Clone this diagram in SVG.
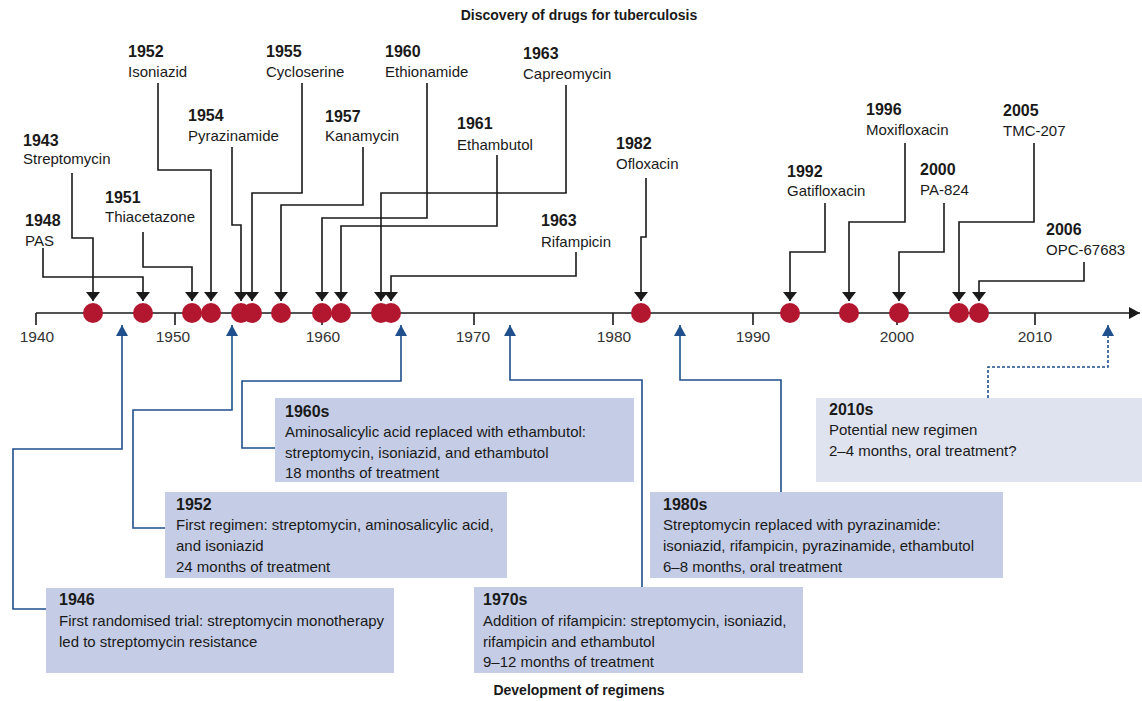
<svg xmlns="http://www.w3.org/2000/svg" width="1142" height="701" viewBox="0 0 1142 701">
<style>
text{font-family:"Liberation Sans",Arial,sans-serif;fill:#1a1a1a}
.t{font-size:14px;font-weight:bold;text-anchor:middle}
.yr{font-size:16px;font-weight:bold}
.nm{font-size:15px}
.tk{font-size:15.5px;text-anchor:middle;fill:#333}
.bl{fill:none;stroke:#1a1a1a;stroke-width:1.6}
.bu{fill:none;stroke:#1f4f8c;stroke-width:1.6}
.dot{fill:#b3162f}
.box{fill:#c5cde6}
.box2{fill:#dfe3f0}
</style>
<defs>
<marker id="ak" viewBox="0 0 9 14" refX="9" refY="7" markerWidth="9" markerHeight="14" markerUnits="userSpaceOnUse" orient="auto"><path d="M0,0 L9,7 L0,14 z" fill="#1a1a1a"/></marker>
<marker id="ab" viewBox="0 0 11 12" refX="11" refY="6" markerWidth="11" markerHeight="12" markerUnits="userSpaceOnUse" orient="auto"><path d="M0,0 L11,6 L0,12 z" fill="#1f4f8c"/></marker>
<marker id="ax" viewBox="0 0 11 12" refX="11" refY="6" markerWidth="11" markerHeight="12" markerUnits="userSpaceOnUse" orient="auto"><path d="M0,0 L11,6 L0,12 z" fill="#1a1a1a"/></marker>
</defs>
<text class="t" x="579" y="20">Discovery of drugs for tuberculosis</text>
<text class="t" x="579" y="695">Development of regimens</text>
<g id="axis">
<path class="bl" d="M36,313 H1140" marker-end="url(#ax)"/>
<path class="bl" d="M36,313 V325 M175,313 V325 M322,313 V325 M474,313 V325 M613,313 V325 M753,313 V325 M897,313 V325 M1035,313 V325"/>
<text class="tk" x="37" y="342">1940</text>
<text class="tk" x="173" y="342">1950</text>
<text class="tk" x="323" y="342">1960</text>
<text class="tk" x="473" y="342">1970</text>
<text class="tk" x="614" y="342">1980</text>
<text class="tk" x="753" y="342">1990</text>
<text class="tk" x="897" y="342">2000</text>
<text class="tk" x="1035" y="342">2010</text>
</g>
<g id="connectors">
<path class="bl" d="M72,173 V238 H93 V301" marker-end="url(#ak)"/>
<path class="bl" d="M43,248 V277 H143 V301" marker-end="url(#ak)"/>
<path class="bl" d="M143,232 V267 H192 V301" marker-end="url(#ak)"/>
<path class="bl" d="M158,83 V170 H211 V301" marker-end="url(#ak)"/>
<path class="bl" d="M232,147 V225 H241 V301" marker-end="url(#ak)"/>
<path class="bl" d="M302,83 V193 H252 V301" marker-end="url(#ak)"/>
<path class="bl" d="M363,147 V205 H281 V301" marker-end="url(#ak)"/>
<path class="bl" d="M427,83 V218 H322 V301" marker-end="url(#ak)"/>
<path class="bl" d="M497,155 V226 H341 V301" marker-end="url(#ak)"/>
<path class="bl" d="M566,85 V193 H381 V301" marker-end="url(#ak)"/>
<path class="bl" d="M576,252 V276 H391 V301" marker-end="url(#ak)"/>
<path class="bl" d="M646,178 V237 H641 V301" marker-end="url(#ak)"/>
<path class="bl" d="M825,203 V252 H790 V301" marker-end="url(#ak)"/>
<path class="bl" d="M905,143 V222 H849 V301" marker-end="url(#ak)"/>
<path class="bl" d="M944,203 V252 H899 V301" marker-end="url(#ak)"/>
<path class="bl" d="M1034,143 V222 H959 V301" marker-end="url(#ak)"/>
<path class="bl" d="M1084,262 V281 H979 V301" marker-end="url(#ak)"/>
<path class="bu" d="M46,609 H13 V449 H122 V325" marker-end="url(#ab)"/>
<path class="bu" d="M165,528 H133 V410 H232 V325" marker-end="url(#ab)"/>
<path class="bu" d="M275,448 H242 V381 H401 V325" marker-end="url(#ab)"/>
<path class="bu" d="M642,587 V380 H510 V325" marker-end="url(#ab)"/>
<path class="bu" d="M781,492 V380 H680 V325" marker-end="url(#ab)"/>
<path class="bu" d="M988,398 V367 H1108 V325" stroke-dasharray="3,2" marker-end="url(#ab)"/>
</g>
<g id="dots">
<circle class="dot" cx="93" cy="313" r="10"/>
<circle class="dot" cx="143" cy="313" r="10"/>
<circle class="dot" cx="192" cy="313" r="10"/>
<circle class="dot" cx="211" cy="313" r="10"/>
<circle class="dot" cx="241" cy="313" r="10"/>
<circle class="dot" cx="252" cy="313" r="10"/>
<circle class="dot" cx="281" cy="313" r="10"/>
<circle class="dot" cx="322" cy="313" r="10"/>
<circle class="dot" cx="341" cy="313" r="10"/>
<circle class="dot" cx="381" cy="313" r="10"/>
<circle class="dot" cx="391" cy="313" r="10"/>
<circle class="dot" cx="641" cy="313" r="10"/>
<circle class="dot" cx="790" cy="313" r="10"/>
<circle class="dot" cx="849" cy="313" r="10"/>
<circle class="dot" cx="899" cy="313" r="10"/>
<circle class="dot" cx="959" cy="313" r="10"/>
<circle class="dot" cx="979" cy="313" r="10"/>
</g>
<g id="d1943"><text class="yr" x="23" y="146">1943</text><text class="nm" x="23" y="164">Streptomycin</text></g>
<g id="d1948"><text class="yr" x="25" y="226">1948</text><text class="nm" x="25" y="246">PAS</text></g>
<g id="d1951"><text class="yr" x="105" y="203">1951</text><text class="nm" x="105" y="222">Thiacetazone</text></g>
<g id="d1952"><text class="yr" x="128" y="57">1952</text><text class="nm" x="128" y="77">Isoniazid</text></g>
<g id="d1954"><text class="yr" x="188" y="121">1954</text><text class="nm" x="188" y="141">Pyrazinamide</text></g>
<g id="d1955"><text class="yr" x="266" y="57">1955</text><text class="nm" x="266" y="77">Cycloserine</text></g>
<g id="d1957"><text class="yr" x="325" y="122">1957</text><text class="nm" x="325" y="141">Kanamycin</text></g>
<g id="d1960"><text class="yr" x="385" y="57">1960</text><text class="nm" x="385" y="77">Ethionamide</text></g>
<g id="d1961"><text class="yr" x="457" y="129">1961</text><text class="nm" x="457" y="150">Ethambutol</text></g>
<g id="d1963a"><text class="yr" x="523" y="59">1963</text><text class="nm" x="523" y="79">Capreomycin</text></g>
<g id="d1963b"><text class="yr" x="541" y="226">1963</text><text class="nm" x="541" y="247">Rifampicin</text></g>
<g id="d1982"><text class="yr" x="616" y="149">1982</text><text class="nm" x="616" y="169">Ofloxacin</text></g>
<g id="d1992"><text class="yr" x="787" y="177">1992</text><text class="nm" x="787" y="196">Gatifloxacin</text></g>
<g id="d1996"><text class="yr" x="866" y="115">1996</text><text class="nm" x="866" y="135">Moxifloxacin</text></g>
<g id="d2000"><text class="yr" x="920" y="175">2000</text><text class="nm" x="920" y="195">PA-824</text></g>
<g id="d2005"><text class="yr" x="1003" y="116">2005</text><text class="nm" x="1003" y="136">TMC-207</text></g>
<g id="d2006"><text class="yr" x="1046" y="235">2006</text><text class="nm" x="1046" y="255">OPC-67683</text></g>
<g id="r1946"><rect class="box" x="46" y="588" width="348" height="85"/>
<text class="yr" x="59" y="605">1946</text>
<text class="nm" x="59" y="626">First randomised trial: streptomycin monotherapy</text>
<text class="nm" x="59" y="647">led to streptomycin resistance</text></g>
<g id="r1952"><rect class="box" x="165" y="492" width="342" height="86"/>
<text class="yr" x="176" y="510">1952</text>
<text class="nm" x="176" y="530">First regimen: streptomycin, aminosalicylic acid,</text>
<text class="nm" x="176" y="551">and isoniazid</text>
<text class="nm" x="176" y="572">24 months of treatment</text></g>
<g id="r1960s"><rect class="box" x="275" y="398" width="359" height="84"/>
<text class="yr" x="285" y="417">1960s</text>
<text class="nm" x="285" y="437">Aminosalicylic acid replaced with ethambutol:</text>
<text class="nm" x="285" y="458">streptomycin, isoniazid, and ethambutol</text>
<text class="nm" x="285" y="478">18 months of treatment</text></g>
<g id="r1970s"><rect class="box" x="474" y="587" width="329" height="86"/>
<text class="yr" x="483" y="605">1970s</text>
<text class="nm" x="483" y="626">Addition of rifampicin: streptomycin, isoniazid,</text>
<text class="nm" x="483" y="647">rifampicin and ethambutol</text>
<text class="nm" x="483" y="667">9–12 months of treatment</text></g>
<g id="r1980s"><rect class="box" x="650" y="492" width="353" height="86"/>
<text class="yr" x="663" y="510">1980s</text>
<text class="nm" x="663" y="530">Streptomycin replaced with pyrazinamide:</text>
<text class="nm" x="663" y="551">isoniazid, rifampicin, pyrazinamide, ethambutol</text>
<text class="nm" x="663" y="572">6–8 months, oral treatment</text></g>
<g id="r2010s"><rect class="box2" x="816" y="398" width="326" height="84"/>
<text class="yr" x="829" y="415">2010s</text>
<text class="nm" x="829" y="435">Potential new regimen</text>
<text class="nm" x="829" y="456">2–4 months, oral treatment?</text></g>
</svg>
